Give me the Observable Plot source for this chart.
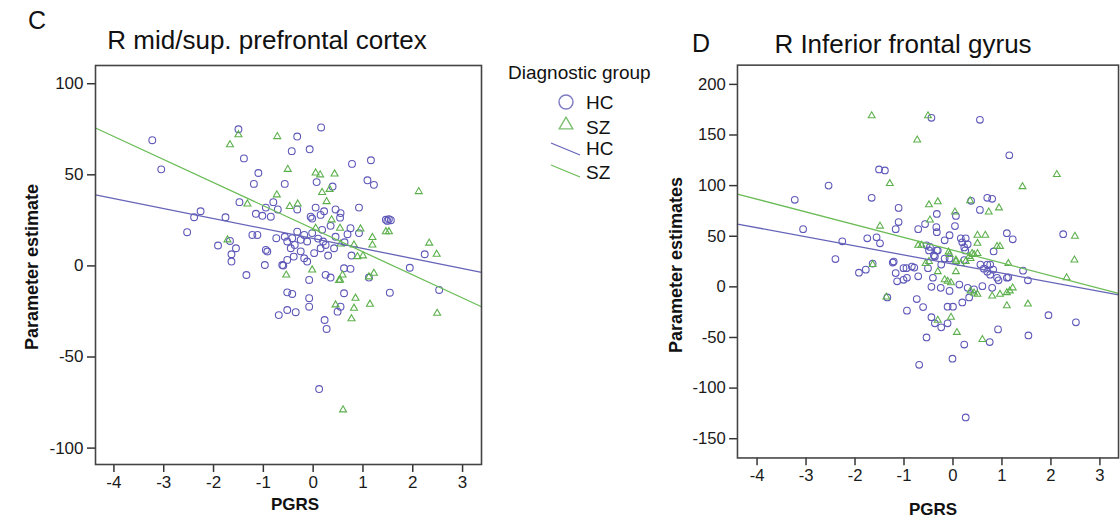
<!DOCTYPE html>
<html>
<head>
<meta charset="utf-8">
<script src="https://cdn.jsdelivr.net/npm/d3@7"></script>
<script src="https://cdn.jsdelivr.net/npm/@observablehq/plot@0.6"></script>
<style>
  html, body { margin: 0; padding: 0; background: #fff; }
  body { width: 1120px; height: 525px; overflow: hidden; position: relative; font-family: "Liberation Sans", Arial, sans-serif; }
  .abs { position: absolute; white-space: nowrap; color: #111; }
  .panel { position: absolute; top: 0; }
  .panel svg g[aria-label$="tick label"] text { font-size: 17px; font-family: "Liberation Sans", Arial, sans-serif; fill: #1a1a1a; }
</style>
</head>
<body>
<div id="panelC" class="panel" style="left:0px"></div>
<div id="panelD" class="panel" style="left:640px"></div>
<div id="labels"></div>
<svg id="legend" class="abs" style="left:500px; top:55px" width="175" height="135"></svg>
<script>
// ---------------- DATA ----------------
const xTicks = [-4, -3, -2, -1, 0, 1, 2, 3];
const yTicksC = [-100, -50, 0, 50, 100];
const yTicksD = [-150, -100, -50, 0, 50, 100, 150, 200];
const groups = ["HC", "SZ"];

// Panel C: R mid/sup. prefrontal cortex  [PGRS, parameter estimate]
const hcC = [
  [-3.23,69],[-1.50,75],[0.16,76],[-0.32,71],[-0.43,63],[-0.07,64],[-3.05,53],[-1.39,59],[0.78,56],[1.16,58],
  [-1.10,51],[-1.19,45],[-0.57,45],[0.07,46],[1.09,47],[1.22,44.5],[0.39,43.6],[-1.48,35],[-0.80,35],[-0.95,32],
  [-0.71,31],[-0.32,31],[0.05,32],[0.22,30],[0.45,31],[0.55,29],[0.92,32],[-2.26,30],[-2.39,26.7],[-1.76,26.7],
  [-1.15,28.6],[-1.02,27.5],[-0.85,27],[-0.05,27],[0.15,28],[1.52,25.6],[1.46,25.3],[-2.53,18.5],[-1.91,11.2],[-1.67,13.7],
  [-1.55,9.7],[-1.64,6.4],[-1.64,2.4],[-1.34,-5],[-1.22,17],[-1.12,17],[-0.95,8.8],[-0.92,7.9],[-0.97,0.5],[-0.74,15.2],
  [-0.57,16],[-0.52,13.4],[-0.42,15.2],[-0.37,11.5],[-0.32,18.8],[-0.25,14.3],[-0.18,17],[-0.12,13.4],[-0.45,9.7],[-0.39,5.1],
  [-0.52,3.3],[-0.60,0.2],[-0.18,4.2],[-0.12,2.4],[0.02,7],[0.15,9.7],[0.25,11.5],[0.30,5.7],[0.20,13.4],[-0.02,18],
  [0.18,19.8],[-0.02,26],[0.54,26.5],[0.75,20.7],[0.92,18],[0.69,17.4],[0.63,13],[0.42,9.7],[0.77,5.7],[1.49,24.7],
  [1.56,25.1],[2.24,6.4],[1.94,-1],[2.53,-13.2],[1.54,-14.7],[1.12,-6.4],[0.62,-1.3],[0.75,-1.6],[0.25,-4.9],[0.35,-6.4],
  [-0.08,-7.7],[-0.62,0.5],[-0.52,-14.5],[-0.42,-15.4],[-0.08,-17.7],[-0.08,-22.4],[0.62,-15],[0.55,-22.4],[0.49,-25.1],[-0.69,-27],
  [-0.52,-24.2],[-0.35,-25.4],[0.23,-29.7],[0.27,-34.6],[0.12,-67.6],[0.35,22],[0.10,15],[-0.25,8],[0.45,16]
];
const szC = [
  [-1.50,72],[-0.72,71],[-1.67,66.5],[-0.51,53],[0.05,51],[0.14,50],[0.43,50.5],[0.33,42],[0.18,40.3],[2.12,40.8],
  [-0.73,39],[0.27,35.3],[-1.32,34],[-0.47,32.6],[-0.31,34],[-1.72,14.3],[0.05,20.7],[0.37,25.3],[0.54,20.7],[0.95,20.3],
  [0.82,11.5],[0.55,12],[0.89,5.1],[1.00,5.5],[1.19,15.6],[1.19,11.5],[1.46,18.8],[1.52,18.8],[2.33,12.5],[2.48,6.4],
  [1.22,-4],[0.59,-5],[0.54,-7.7],[-0.02,-2.2],[-0.54,-5],[0.85,-17.7],[0.82,-23.2],[1.14,-21],[0.45,-21.4],[2.49,-26],
  [0.77,-29],[0.60,-79],[0.52,-8],[1.12,-6]
];
// fitted regression lines, panel C (end points at frame edges)
const fitXC = [-4.37, 3.38];
const fitHC_C = [39, -3.5];
const fitSZ_C = [75.7, -22.4];

// Panel D: R Inferior frontal gyrus
const hcD = [
  [-0.44,167],[0.55,165],[1.15,130],[-1.51,116],[-1.39,115],[-2.54,100],[-3.23,86],[-1.66,88],[-1.11,78],[0.37,85],
  [0.70,88],[0.80,87],[0.55,76],[-0.33,72],[0.06,70],[-3.06,57],[-2.26,45],[-2.40,27.5],[-1.75,48],[-1.56,49],
  [-1.49,43],[-1.11,64],[-1.17,57],[-1.23,24],[-0.71,57],[-0.57,62],[-0.34,59],[-0.33,54],[-0.07,51],[-0.17,46],
  [0.04,60],[1.10,53],[1.22,47],[0.83,35],[2.25,52],[0.16,48],[0.19,44],[0.23,39],[0.26,48],[-0.54,41],
  [-0.49,36],[-0.39,31],[-0.33,36],[-0.17,28],[0.23,26.5],[0.56,22],[0.70,22],[1.43,16],[-1.92,14],[-1.78,17],
  [-1.01,18.5],[-0.84,20],[-0.51,18.5],[0.30,42],[0.25,36],[-0.31,36],[-0.37,30],[-0.24,22],[0.63,18],[0.76,22],
  [0.70,15],[0.82,17],[0.76,12],[0.90,9],[0.93,6.5],[1.53,6.5],[1.10,9],[1.95,-28],[-1.64,23],[-1.17,13.6],
  [-1.01,7],[-0.94,9],[-1.14,5.5],[-0.71,10.4],[-0.41,9],[-0.44,0],[-0.25,-1],[-0.07,-4],[0.13,2.3],[0.30,-1],
  [0.60,0.7],[0.80,-1],[0.43,-2.5],[0.33,-10.5],[-1.34,-10.5],[-0.74,-12],[-0.61,-20],[-0.11,-19.6],[0.00,-19.6],[0.19,-15.4],
  [-0.94,-23.5],[-0.44,-30],[-0.37,-36],[-0.24,-40],[-0.11,-36],[-0.54,-50],[0.23,-57],[0.75,-54.5],[0.92,-42],[1.54,-48],
  [2.51,-35],[-0.69,-77],[-0.01,-71],[0.26,-129],[-1.21,25],[-0.95,18.5],[-0.79,19],[1.13,9.4],[-0.47,39.4],[-0.07,28]
];
const szD = [
  [-1.66,169],[-0.51,169],[-0.73,145],[2.12,111],[-1.29,102],[1.42,99],[-0.49,81],[-0.31,84],[0.35,85],[0.73,74],
  [0.94,78],[0.04,74],[-1.49,60],[-1.64,22],[-0.47,66],[0.50,51],[0.66,51],[0.50,43],[0.90,40],[0.96,40],
  [2.49,50],[2.48,26.5],[-0.71,41],[-0.64,41],[-0.07,32],[0.06,26.5],[0.33,30],[0.43,32],[1.13,23],[-0.09,34.5],
  [0.06,25],[0.16,23],[0.26,25],[0.36,28],[0.39,33],[0.50,33],[-0.56,23],[-0.49,25],[-0.31,15],[-0.17,7],
  [-0.11,5.5],[-0.04,4],[0.06,15],[0.36,-4],[0.43,-6],[0.50,-7.4],[0.80,-9],[0.96,-7.4],[1.10,-5.7],[1.16,-4],
  [1.22,-1],[1.10,-18.7],[1.53,-17],[-1.36,-10],[-0.04,-30],[-0.31,-33],[0.08,-45],[0.60,-52],[2.32,9]
];
const fitXD = [-4.40, 3.38];
const fitHC_D = [62, -7.9];
const fitSZ_D = [91.6, -6.4];

// ---------------- STYLE ----------------
const colHC = "#5e58b8";
const colSZ = "#5cb04c";
const lineHC = "#6664b8";
const lineSZ = "#6cbc58";
const font = "'Liberation Sans', Arial, sans-serif";
const fmt = d => d < 0 ? "-" + Math.abs(d) : String(d);

function panel({hc, sz, fitX, fitHC, fitSZ, yDomain, yTicks, ml, mr, mt, mb, width, height}) {
  const fitRows = (ys, g) => fitX.map((x, i) => ({x, y: ys[i], g}));
  return Plot.plot({
    width, height,
    marginLeft: ml, marginRight: mr, marginTop: mt, marginBottom: mb,
    style: {fontFamily: font, fontSize: "17px", color: "#222", background: "white"},
    x: {domain: [fitX[0], fitX[1]], ticks: xTicks, label: null},
    y: {domain: yDomain, ticks: yTicks, label: null},
    marks: [
      Plot.axisX({ticks: xTicks, tickSize: 8, tickPadding: 3, tickFormat: fmt, stroke: "#333", strokeWidth: 1.5, fontSize: 17, label: null}),
      Plot.axisY({ticks: yTicks, tickSize: 8, tickPadding: 4, tickFormat: fmt, stroke: "#333", strokeWidth: 1.5, fontSize: 17, label: null}),
      Plot.dot(hc, {x: d => d[0], y: d => d[1], symbol: "circle", r: 3.4, stroke: colHC, strokeWidth: 1.1, fill: "none"}),
      Plot.dot(sz, {x: d => d[0], y: d => d[1], symbol: "triangle", r: 2.6, stroke: colSZ, strokeWidth: 1.1, fill: "none"}),
      Plot.line(fitRows(fitHC, "HC"), {x: "x", y: "y", stroke: lineHC, strokeWidth: 1.3}),
      Plot.line(fitRows(fitSZ, "SZ"), {x: "x", y: "y", stroke: lineSZ, strokeWidth: 1.3}),
      Plot.frame({stroke: "#444", strokeWidth: 1.6})
    ]
  });
}

document.getElementById("panelC").appendChild(panel({
  hc: hcC, sz: szC, fitX: fitXC, fitHC: fitHC_C, fitSZ: fitSZ_C,
  yDomain: [-109, 110], yTicks: yTicksC,
  ml: 95, mr: 9, mt: 65, mb: 61, width: 490, height: 525
}));
document.getElementById("panelD").appendChild(panel({
  hc: hcD, sz: szD, fitX: fitXD, fitHC: fitHC_D, fitSZ: fitSZ_D,
  yDomain: [-169, 219], yTicks: yTicksD,
  ml: 99, mr: 2, mt: 66, mb: 58, width: 490, height: 525
}));

// ---------------- TEXT LABELS ----------------
const texts = [
  {t: "C", x: 28, y: 8, size: 25, weight: "normal"},
  {t: "D", x: 692, y: 31, size: 25, weight: "normal"},
  {t: "R mid/sup. prefrontal cortex", cx: 267, y: 27, size: 26, weight: "normal"},
  {t: "R Inferior frontal gyrus", cx: 903, y: 31, size: 26, weight: "normal"},
  {t: "PGRS", cx: 295, y: 496, size: 17, weight: "bold"},
  {t: "PGRS", cx: 933, y: 501, size: 17, weight: "bold"},
  {t: "Parameter estimate", cx: 32, cy: 267, size: 18, weight: "bold", rot: true},
  {t: "Parameter estimates", cx: 676, cy: 265, size: 18, weight: "bold", rot: true}
];
const lab = document.getElementById("labels");
for (const d of texts) {
  const el = document.createElement("div");
  el.className = "abs";
  el.textContent = d.t;
  el.style.fontSize = d.size + "px";
  el.style.fontWeight = d.weight;
  el.style.lineHeight = "1";
  if (d.rot) {
    el.style.left = d.cx + "px";
    el.style.top = d.cy + "px";
    el.style.transform = "translate(-50%,-50%) rotate(-90deg)";
  } else if (d.cx !== undefined) {
    el.style.left = d.cx + "px";
    el.style.top = d.y + "px";
    el.style.transform = "translateX(-50%)";
  } else {
    el.style.left = d.x + "px";
    el.style.top = d.y + "px";
  }
  lab.appendChild(el);
}

// ---------------- LEGEND ----------------
const lg = d3.select("#legend").style("font-family", font);
lg.append("text").attr("x", 8).attr("y", 24).attr("font-size", 19).attr("fill", "#111").text("Diagnostic group");
const rows = [
  {g: "HC", kind: "circle", y: 47, ty: 54},
  {g: "SZ", kind: "triangle", y: 69, ty: 79},
  {g: "HC", kind: "line", y: 94, ty: 100},
  {g: "SZ", kind: "line", y: 116, ty: 124}
];
for (const r of rows) {
  if (r.kind === "circle") {
    lg.append("circle").attr("cx", 66).attr("cy", r.y).attr("r", 7).attr("fill", "none").attr("stroke", "#7d7ac0").attr("stroke-width", 1.4);
  } else if (r.kind === "triangle") {
    lg.append("path").attr("d", d3.symbol(d3.symbolTriangle, 80)()).attr("transform", `translate(66,${r.y + 1})`).attr("fill", "none").attr("stroke", "#7cc070").attr("stroke-width", 1.4);
  } else {
    lg.append("line").attr("x1", 51).attr("y1", r.y - 6).attr("x2", 80).attr("y2", r.y + 6).attr("stroke", r.g === "HC" ? lineHC : lineSZ).attr("stroke-width", 1.3);
  }
  lg.append("text").attr("x", 86).attr("y", r.ty).attr("font-size", 19).attr("fill", "#111").text(r.g);
}
</script>
</body>
</html>
